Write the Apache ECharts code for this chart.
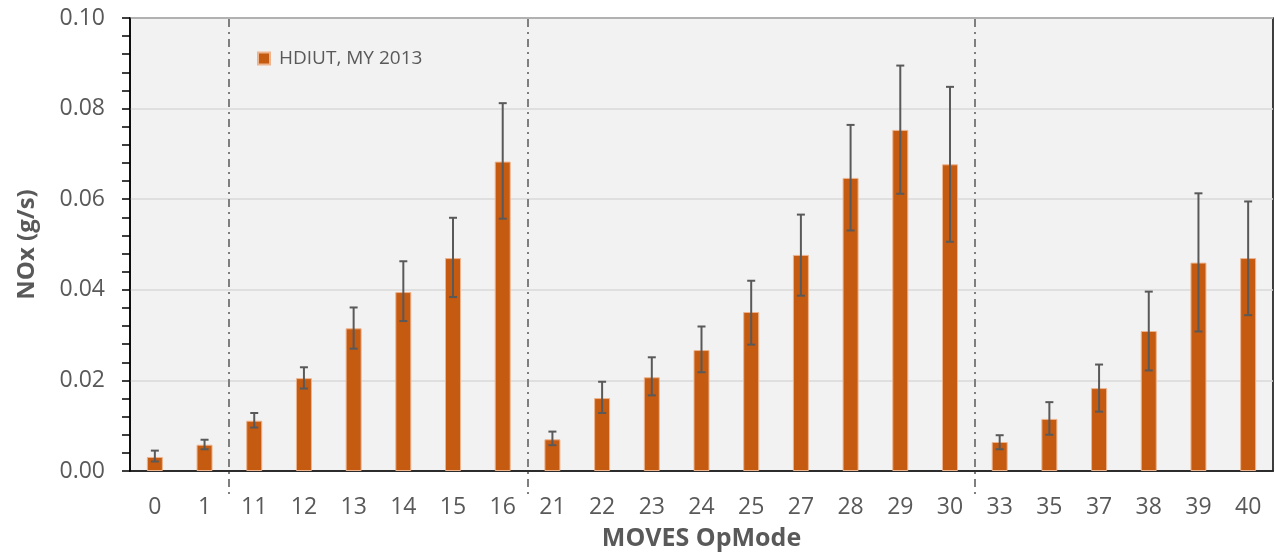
<!DOCTYPE html>
<html>
<head>
<meta charset="utf-8">
<script src="https://cdn.jsdelivr.net/npm/echarts@6/dist/echarts.min.js"></script>
<style>
html,body{margin:0;padding:0;background:#fff;}
#chart{width:1275px;height:556px;}
</style>
</head>
<body>
<div id="chart"></div>
<script>
var categories = ['0','1','11','12','13','14','15','16','21','22','23','24','25','27','28','29','30','33','35','37','38','39','40'];
var values =   [0.0031,0.0058,0.0111,0.0205,0.0315,0.0395,0.0470,0.0683,0.0070,0.0161,0.0207,0.0267,0.0351,0.0477,0.0647,0.0753,0.0677,0.0064,0.0115,0.0183,0.0309,0.0460,0.0470];
var errLow =   [0.0021,0.0048,0.0096,0.0182,0.0270,0.0331,0.0384,0.0557,0.0057,0.0128,0.0167,0.0218,0.0279,0.0387,0.0531,0.0612,0.0506,0.0048,0.0080,0.0131,0.0222,0.0308,0.0344];
var errHigh =  [0.0045,0.0069,0.0128,0.0229,0.0361,0.0463,0.0559,0.0812,0.0087,0.0197,0.0251,0.0319,0.0420,0.0566,0.0764,0.0895,0.0848,0.0079,0.0152,0.0235,0.0396,0.0613,0.0595];
var separatorsAfter = ['1','16','30'];
var yTicks = [0, 0.02, 0.04, 0.06, 0.08, 0.10];
var seriesName = 'HDIUT, MY 2013';

var FONT = '"Open Sans", "Noto Sans", sans-serif';
var chart = echarts.init(document.getElementById('chart'), null, {renderer: 'canvas'});

var errData = categories.map(function (c, i) { return [i, errLow[i], errHigh[i]]; });
var sepData = separatorsAfter.map(function (c) { return [categories.indexOf(c), 0]; });

chart.setOption({
  animation: false,
  backgroundColor: '#ffffff',
  grid: {
    left: 130, right: 2, top: 18, bottom: 84,
    show: true, backgroundColor: '#f2f2f2', borderColor: '#000', borderWidth: 1.5
  },
  legend: {
    data: [seriesName],
    left: 252, top: 44,
    icon: 'rect', itemWidth: 12, itemHeight: 12,
    textStyle: { color: '#595959', fontSize: 19, fontFamily: FONT, padding: [0, 0, 0, 4] }
  },
  xAxis: {
    type: 'category',
    data: categories,
    axisLine: { lineStyle: { color: '#000', width: 1.5 } },
    axisTick: { show: false },
    axisLabel: { color: '#595959', fontSize: 23, fontFamily: FONT, margin: 25 },
    name: 'MOVES OpMode',
    nameLocation: 'middle',
    nameGap: 55,
    nameTextStyle: { color: '#595959', fontSize: 25, fontWeight: 'bold', fontFamily: FONT }
  },
  yAxis: {
    type: 'value',
    min: yTicks[0], max: yTicks[yTicks.length - 1], interval: yTicks[1] - yTicks[0],
    axisLine: { show: true, lineStyle: { color: '#000', width: 1.5 } },
    axisTick: { show: true, length: 8, lineStyle: { color: '#000', width: 1.5 } },
    minorTick: { show: true, splitNumber: 5, length: 8, lineStyle: { color: '#000', width: 1.5 } },
    splitLine: { show: true, lineStyle: { color: '#d9d9d9', width: 1.5 } },
    axisLabel: { color: '#595959', fontSize: 23, fontFamily: FONT, margin: 25,
      formatter: function (v) { return v.toFixed(2); } },
    name: 'NOx (g/s)',
    nameLocation: 'middle',
    nameGap: 91,
    nameTextStyle: { color: '#595959', fontSize: 24, fontWeight: 'bold', fontFamily: FONT }
  },
  series: [
    {
      name: seriesName,
      type: 'bar',
      data: values,
      barWidth: 16,
      itemStyle: { color: '#c55a11', borderColor: '#eeb48e', borderWidth: 1 },
      z: 2
    },
    {
      name: 'err',
      type: 'custom',
      data: errData,
      encode: { x: 0, y: [1, 2] },
      z: 3,
      renderItem: function (params, api) {
        var i = api.value(0);
        var lo = api.coord([i, api.value(1)]);
        var hi = api.coord([i, api.value(2)]);
        var hw = 4;
        var st = { stroke: '#595959', lineWidth: 2 };
        return {
          type: 'group',
          children: [
            { type: 'line', shape: { x1: lo[0], y1: lo[1], x2: hi[0], y2: hi[1] }, style: st },
            { type: 'line', shape: { x1: lo[0] - hw, y1: lo[1], x2: lo[0] + hw, y2: lo[1] }, style: st },
            { type: 'line', shape: { x1: hi[0] - hw, y1: hi[1], x2: hi[0] + hw, y2: hi[1] }, style: st }
          ]
        };
      }
    },
    {
      name: 'sep',
      type: 'custom',
      data: sepData,
      encode: { x: 0, y: 1 },
      clip: false,
      z: 4,
      renderItem: function (params, api) {
        var i = api.value(0);
        var a = api.coord([i, 0]);
        var b = api.coord([i + 1, 0]);
        var t = api.coord([i, yTicks[yTicks.length - 1]]);
        var x = Math.round((a[0] + b[0]) / 2);
        return {
          type: 'line',
          shape: { x1: x, y1: t[1] + 1, x2: x, y2: a[1] + 23 },
          style: { stroke: '#7f7f7f', lineWidth: 2, lineDash: [8, 5, 2, 5] }
        };
      }
    }
  ]
});
</script>
</body>
</html>
